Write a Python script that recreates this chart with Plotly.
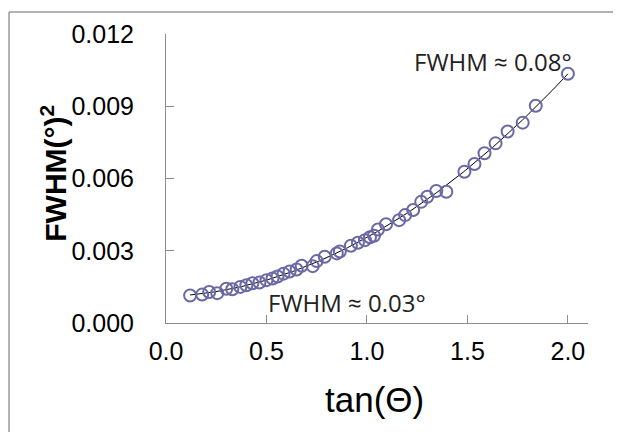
import numpy as np
import plotly.graph_objects as go

tan_theta = [0.12, 0.18, 0.215, 0.255, 0.30, 0.33, 0.37, 0.40, 0.43, 0.465, 0.50, 0.53,
             0.555, 0.585, 0.615, 0.65, 0.675, 0.73, 0.75, 0.79, 0.85, 0.865, 0.92, 0.955,
             0.99, 1.015, 1.035, 1.055, 1.095, 1.16, 1.19, 1.23, 1.27, 1.30, 1.345, 1.395,
             1.485, 1.535, 1.585, 1.64, 1.70, 1.775, 1.84, 2.00]
fwhm_sq = [0.00114, 0.00118, 0.00129, 0.00124, 0.00142, 0.00140, 0.00150, 0.00157, 0.00165,
           0.00168, 0.00178, 0.00185, 0.00193, 0.00205, 0.00214, 0.00222, 0.00238, 0.00236,
           0.00257, 0.00275, 0.00289, 0.00297, 0.00321, 0.00333, 0.00344, 0.00356, 0.00362,
           0.00388, 0.00410, 0.00427, 0.00448, 0.00469, 0.00503, 0.00524, 0.00548, 0.00545,
           0.00628, 0.00660, 0.00705, 0.00746, 0.00795, 0.00832, 0.00902, 0.01035]
x_ticks = [0.0, 0.5, 1.0, 1.5, 2.0]
y_ticks = [0.0, 0.003, 0.006, 0.009, 0.012]

# quadratic trendline fitted to the data
coef = np.polyfit(tan_theta, fwhm_sq, 2)
fit_x = np.linspace(min(tan_theta), max(tan_theta), 200)
fit_y = np.polyval(coef, fit_x)

fig = go.Figure()
fig.add_trace(go.Scatter(x=fit_x, y=fit_y, mode="lines",
                         line=dict(color="black", width=1), hoverinfo="skip"))
fig.add_trace(go.Scatter(x=tan_theta, y=fwhm_sq, mode="markers",
                         marker=dict(symbol="circle-open", size=12, color="rgb(105,105,165)",
                                     line=dict(width=2, color="rgb(105,105,165)"))))

axis_color = "#8c8c8c"
fig.update_layout(
    width=613, height=424,
    margin=dict(l=158, r=33, t=26, b=109),
    paper_bgcolor="white", plot_bgcolor="white",
    showlegend=False,
    font=dict(family="Liberation Sans, Arial", color="black"),
    xaxis=dict(range=[0, 2.1], tickvals=x_ticks, ticktext=[f"{v:.1f}" for v in x_ticks],
               showgrid=False, zeroline=False, showline=True, linecolor=axis_color, linewidth=1,
               ticks="inside", ticklen=8, tickcolor=axis_color, tickfont=dict(size=25),
               ticklabelstandoff=6, automargin=False),
    yaxis=dict(range=[0, 0.012], tickvals=y_ticks, ticktext=[f"{v:.3f}" for v in y_ticks],
               showgrid=False, zeroline=False, showline=True, linecolor=axis_color, linewidth=1,
               ticks="inside", ticklen=8, tickcolor=axis_color, tickfont=dict(size=25),
               ticklabelstandoff=26, automargin=False),
    annotations=[
        dict(x=0.495, y=-0.266, xref="paper", yref="paper", text="tan(Θ)", showarrow=False,
             xanchor="center", yanchor="middle", font=dict(size=35)),
        dict(x=-0.266, y=0.519, xref="paper", yref="paper", text="<b>FWHM(°)<sup>2</sup></b>",
             showarrow=False, textangle=-90, xanchor="center", yanchor="middle",
             font=dict(size=30)),
        dict(x=1.625, y=0.01084, xref="x", yref="y", text="FWHM ≈ 0.08°", showarrow=False,
             font=dict(family="Open Sans", size=24, color="#222")),
        dict(x=0.90, y=0.00087, xref="x", yref="y", text="FWHM ≈ 0.03°", showarrow=False,
             font=dict(family="Open Sans", size=24, color="#222")),
    ],
    shapes=[
        dict(type="line", xref="paper", yref="paper", x0=-0.372, x1=1.2, y0=1.076, y1=1.076,
             line=dict(color="#999", width=1.5)),
        dict(type="line", xref="paper", yref="paper", x0=-0.372, x1=-0.372, y0=1.076, y1=-0.5,
             line=dict(color="#999", width=1.5)),
    ],
)
fig.write_html("out.html")
